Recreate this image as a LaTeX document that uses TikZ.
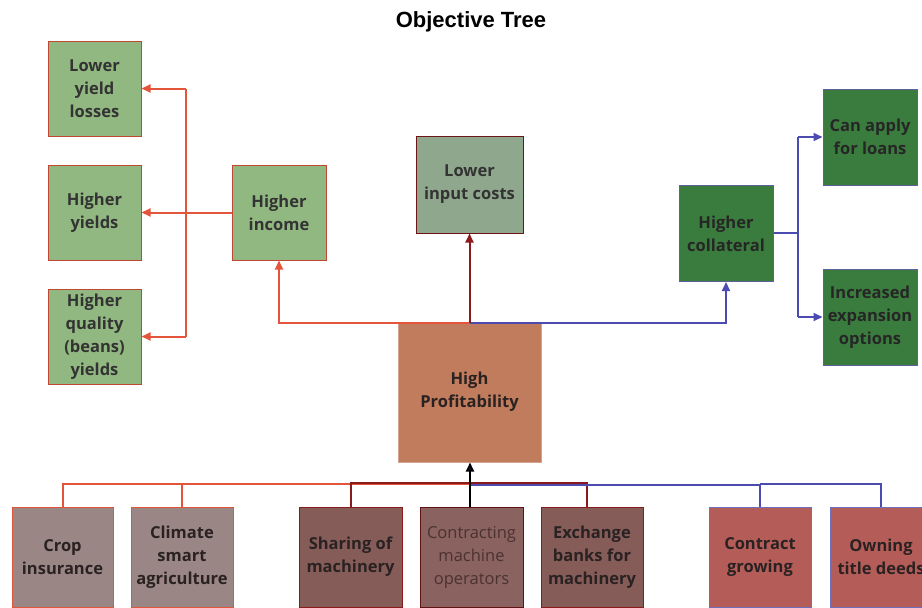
\documentclass[tikz,border=0pt]{standalone}
\usepackage{fontspec}
\setmainfont{Open Sans}
\newfontfamily\titlefont{Liberation Sans}
\usetikzlibrary{arrows.meta}

\definecolor{lineorange}{HTML}{E2553B}
\definecolor{lineblue}{HTML}{4B4BB0}
\definecolor{linered}{HTML}{8B1A1A}
\definecolor{linenavy}{HTML}{23236E}
\definecolor{greenfill}{HTML}{92B882}
\definecolor{sagefill}{HTML}{8FA88D}
\definecolor{profitfill}{HTML}{C07C5C}
\definecolor{darkgreenfill}{HTML}{3A7C3D}
\definecolor{taupefill}{HTML}{9A8684}
\definecolor{maroonfill}{HTML}{865C59}
\definecolor{maroonlight}{HTML}{8A625F}
\definecolor{brickfill}{HTML}{B45D58}
\definecolor{darktext}{HTML}{2A2222}

\tikzset{
  box/.style={rectangle, draw, line width=1pt, align=center, inner sep=2pt,
    text=darktext, font=\fontsize{16.5}{23}\selectfont\bfseries},
  greenbox/.style={box, fill=greenfill, draw=lineorange!85!black, minimum width=93pt, minimum height=95pt, text=black!80},
  darkbox/.style={box, fill=darkgreenfill, draw=lineblue!60!gray, minimum width=94pt, minimum height=96pt, text=black!85},
  basebox/.style={box, minimum width=102pt, minimum height=100pt},
  link/.style={line width=2pt},
  arrowlink/.style={link, -{Triangle[length=9pt,width=8pt]}}
}

\begin{document}
\begin{tikzpicture}[x=1pt,y=-1pt]
\useasboundingbox (0,0) rectangle (922,608);
\clip (0,0) rectangle (922,608);

% title
\node[font=\titlefont\fontsize{22}{26}\selectfont\bfseries] (title) at (471,22) {Objective Tree};

% upper branches
\node[greenbox] (lyl) at (94.5,88.5) {Lower\\yield\\losses};
\node[greenbox] (hy) at (94.5,212.5) {Higher\\yields};
\node[greenbox] (hq) at (94.5,336.5) {Higher\\quality\\(beans)\\yields};
\node[greenbox, minimum width=94pt] (hi) at (279,212.5) {Higher\\income};
\node[box, fill=sagefill, draw=linered!80!black, minimum width=107pt, minimum height=97pt, text=black!80] (lic) at (469.5,184.5) {Lower\\input costs};
\node[box, fill=profitfill, draw=profitfill!70!white, minimum width=143pt, minimum height=140pt, text=darktext] (hp) at (469.5,392) {High\\Profitability};
\node[darkbox] (hc) at (726,233.5) {Higher\\collateral};
\node[darkbox] (cal) at (870,137) {Can apply\\for loans};
\node[darkbox] (ieo) at (870,317) {Increased\\expansion\\options};

% root causes
\node[basebox, fill=taupefill, draw=lineorange, minimum width=101pt] (ci) at (62.5,557) {Crop\\insurance};
\node[basebox, fill=taupefill, draw=lineorange] (csa) at (182,557) {Climate\\smart\\agriculture};
\node[basebox, fill=maroonfill, draw=linered, minimum width=103pt] (som) at (350.5,557) {Sharing of\\machinery};
\node[basebox, fill=maroonlight, draw=linered!70!black, minimum width=103pt, font=\fontsize{16.5}{23}\selectfont\mdseries, text=black!45!maroonfill] (cmo) at (471.5,557) {Contracting\\machine\\operators};
\node[basebox, fill=maroonfill, draw=linered] (ebm) at (592,557) {Exchange\\banks for\\machinery};
\node[basebox, fill=brickfill, draw=lineblue!80!white] (cg) at (760,557) {Contract\\growing};
\node[basebox, fill=brickfill, draw=lineblue!80!white] (otd) at (881,557) {Owning\\title deeds};

% bus points
\coordinate (top) at (469.5,323);
\coordinate (incbus) at (186,213);
\coordinate (colbus) at (798,233);
\coordinate (lowbus) at (470,484);

% effects above
\draw[arrowlink, lineorange] (top) -| (hi.south);
\draw[arrowlink, lineblue] (top) -| (hc.south);
\draw[arrowlink, linered] (top) -- (lic.south);

\draw[arrowlink, lineorange] (hi.west) -- (hy.east);
\draw[arrowlink, lineorange] (incbus |- lyl.east) -- (lyl.east);
\draw[arrowlink, lineorange] (incbus |- hq.east) -- (hq.east);
\draw[link, lineorange] (incbus |- lyl.east) -- (incbus |- hq.east);

\draw[link, lineblue] (hc.east |- colbus) -- (colbus);
\draw[link, lineblue] (colbus |- cal.west) -- (colbus |- ieo.west);
\draw[arrowlink, lineblue] (colbus |- cal.west) -- (cal.west);
\draw[arrowlink, lineblue] (colbus |- ieo.west) -- (ieo.west);

% causes below
\draw[link, lineorange] (ci.north) |- (lowbus);
\draw[link, lineorange] (csa.north) -- (csa.north |- lowbus);
\draw[link, linered] (som.north) |- ([yshift=1.5pt]lowbus);
\draw[link, linered] ([yshift=1.5pt]lowbus) -| ([xshift=-5pt]ebm.north);
\draw[link, lineblue] ([yshift=-0.5pt]lowbus) -| (cg.north);
\draw[link, lineblue] (cg.north |- lowbus) -| (otd.north);
\draw[link, black, -{Triangle[length=9pt,width=8pt,fill=linenavy]}] (cmo.north -| lowbus) -- (hp.south -| lowbus);
\end{tikzpicture}
\end{document}
